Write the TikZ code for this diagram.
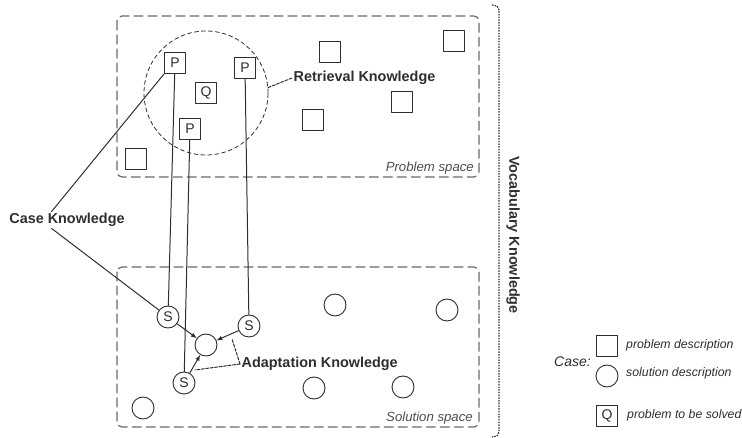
\documentclass[tikz,border=0pt]{standalone}
\usepackage{fontspec}
\setmainfont{Liberation Sans}
\usepackage{tikz}
\tikzset{>=latex}
\usetikzlibrary{shapes,arrows}
\usetikzlibrary{calc}
\definecolor{inkgray}{HTML}{2E2E2E}
\definecolor{boxgray}{HTML}{6A6A6A}
\tikzset{
	probbox/.style={draw=inkgray,fill=white,line width=0.9pt,minimum size=21pt,inner sep=0pt,text=inkgray,font=\fontsize{14}{16}\selectfont},
	solcirc/.style={circle,draw=inkgray,fill=white,line width=0.9pt,minimum size=22pt,inner sep=0pt,text=inkgray,font=\fontsize{14}{16}\selectfont},
	knowl/.style={inner sep=1.5pt,text=inkgray,font=\bfseries\fontsize{14.4}{16}\selectfont},
	spacelbl/.style={inner sep=0pt,text=inkgray!85,font=\itshape\fontsize{13.2}{15}\selectfont},
	legendlbl/.style={anchor=west,inner sep=0pt,text=inkgray,font=\itshape\fontsize{12.3}{14}\selectfont},
	spacebox/.style={draw=boxgray,line width=1.2pt,dash pattern=on 9pt off 5pt,rounded corners=5pt},
	casewire/.style={draw=inkgray,line width=1pt},
	pointer/.style={draw=inkgray,line width=1pt,dash pattern=on 3pt off 1.5pt},
	vocabline/.style={draw=inkgray,line width=1.2pt,line cap=butt,dash pattern=on 1.5pt off 1.2pt}
}
\begin{document}
\begin{tikzpicture}[line cap=round,line join=round,x=1pt,y=-1pt]
		\useasboundingbox (0,0) rectangle (742,438);
		\draw[spacebox] (117,16) rectangle (479,177);
		\draw[spacebox] (117,267) rectangle (479,427);
		\node[spacelbl,anchor=east] (pspace) at (474,168) {Problem space};
		\node[spacelbl,anchor=east] (sspace) at (473,418) {Solution space};
		\node[circle,draw=inkgray,line width=0.8pt,dash pattern=on 4pt off 3pt,minimum size=124pt] (ret) at (206,93) {};
		\node[probbox] (p1) at (175,63) {P};
		\node[probbox] (p2) at (245,68) {P};
		\node[probbox] (p3) at (190,129) {P};
		\node[probbox] (q) at (206,93) {Q};
		\node[probbox] (e1) at (136,159) {};
		\node[probbox] (e2) at (330,52) {};
		\node[probbox] (e3) at (454,41) {};
		\node[probbox] (e4) at (402,102) {};
		\node[probbox] (e5) at (313,120) {};
		\node[solcirc] (s1) at (168,317) {S};
		\node[solcirc] (s2) at (249,326) {S};
		\node[solcirc] (s3) at (184,383) {S};
		\node[solcirc] (new) at (206,345) {};
		\node[solcirc] (c1) at (335,305) {};
		\node[solcirc] (c2) at (447,310) {};
		\node[solcirc] (c3) at (314,388) {};
		\node[solcirc] (c4) at (403,387) {};
		\node[solcirc] (c5) at (143,408) {};
		\draw[casewire] (p1) -- (s1);
		\draw[casewire] (p2) -- (s2);
		\draw[casewire] (p3) -- (s3);
		\draw[casewire,->] (s1) -- (new);
		\draw[casewire,->] (s2) -- (new);
		\draw[casewire,->] (s3) -- (new);
		\node[knowl,anchor=west] (rk) at (292,78) {Retrieval Knowledge};
		\node[knowl] (ck) at (67,220) {Case Knowledge};
		\node[knowl,anchor=west] (ak) at (240,364) {Adaptation Knowledge};
		\node[knowl,rotate=-90] (vk) at (513,235) {Vocabulary Knowledge};
		\draw[pointer] (ret.5) -- (rk.west);
		\draw[casewire] ($(ck.north west)!0.37!(ck.north east)$) -- (p1.south west);
		\draw[casewire] ($(ck.south west)!0.37!(ck.south east)$) -- (s1);
		\coordinate (adapt1) at (232,339);
		\coordinate (adapt2) at (195,370);
		\draw[pointer] (ak.west) -- (adapt1);
		\draw[pointer] (ak.west) -- (adapt2);
		\draw[vocabline] (492,5) -- (497,6) -- (499,10) -- (499,432) -- (497,436) -- (492,437);
		\node[inner sep=0pt,anchor=east,text=inkgray,font=\itshape\fontsize{14}{16}\selectfont] (case) at (591,362) {Case:};
		\node[probbox] (lprob) at (607,346) {};
		\node[solcirc] (lsol) at (607,376) {};
		\node[probbox] (lq) at (607,416) {Q};
		\node[legendlbl] (lprobtxt) at (626,345) {problem description};
		\node[legendlbl] (lsoltxt) at (626,373) {solution description};
		\node[legendlbl] (lqtxt) at (627,415) {problem to be solved};
\end{tikzpicture}
\end{document}
